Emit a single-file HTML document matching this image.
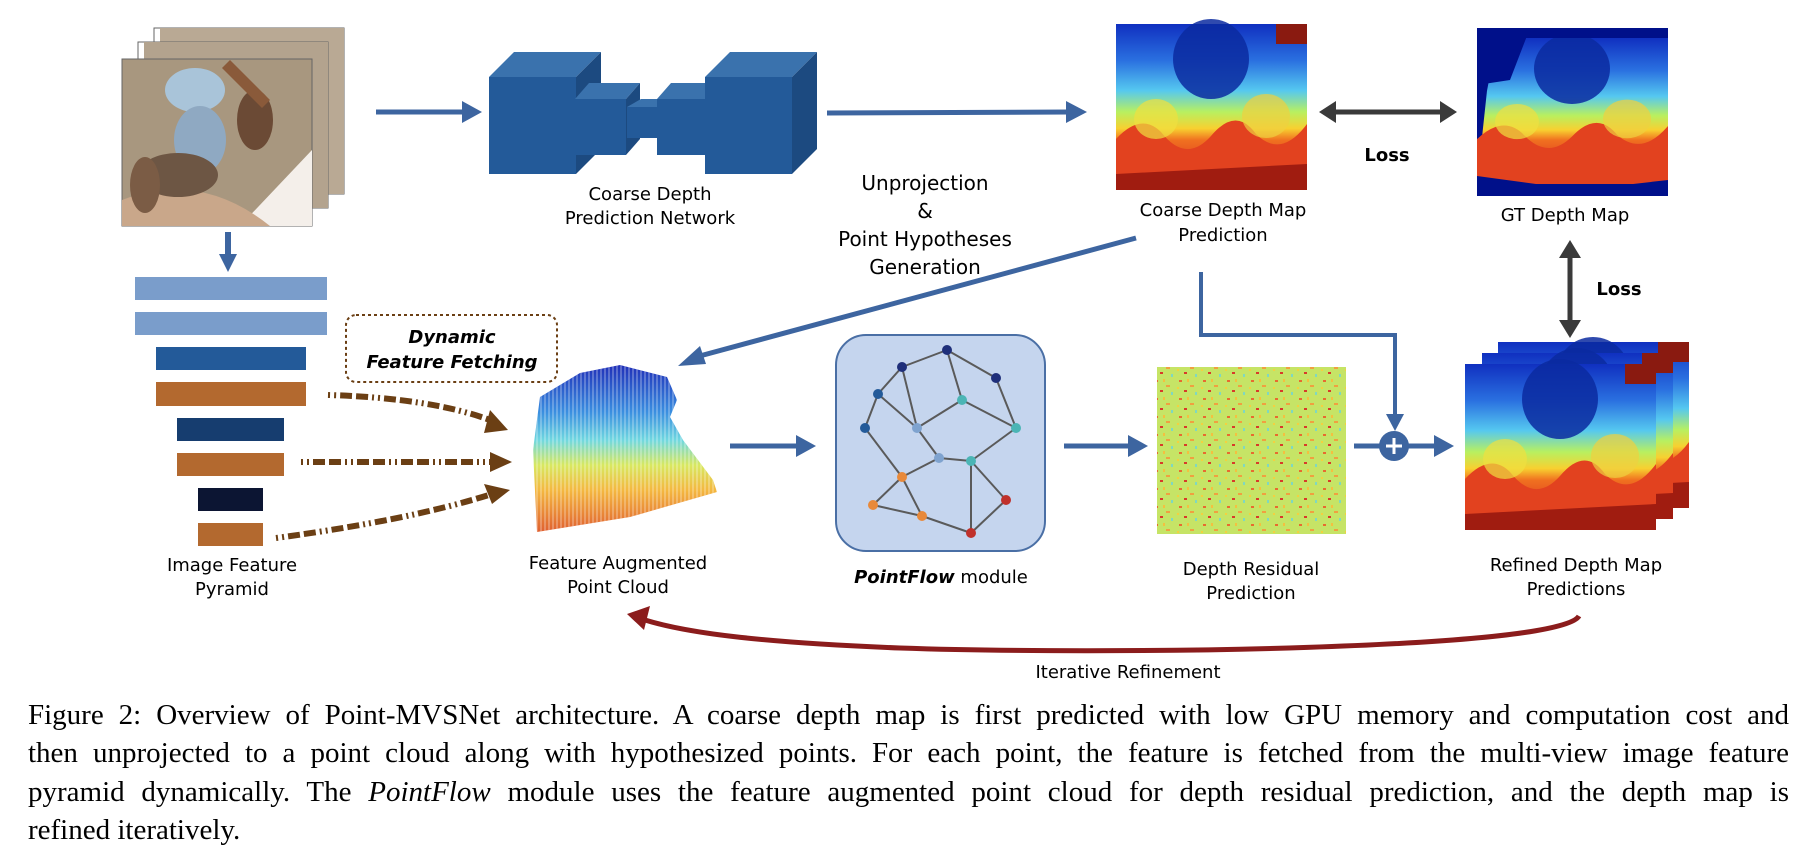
<!DOCTYPE html>
<html><head><meta charset="utf-8"><style>
html,body{margin:0;padding:0;background:#fff;}
body{width:1820px;height:862px;position:relative;overflow:hidden;font-family:"DejaVu Sans","Liberation Sans",sans-serif;}
.cap{position:absolute;left:28px;width:1761px;font-family:"Liberation Serif",serif;font-size:29px;line-height:38px;color:#000;text-align:justify;text-align-last:justify;white-space:nowrap;}
</style></head><body>
<svg width="1820" height="862" viewBox="0 0 1820 862" style="position:absolute;left:0;top:0" font-family="DejaVu Sans, Liberation Sans, sans-serif">
<defs>
<linearGradient id="dg" x1="0" y1="0" x2="0" y2="1">
<stop offset="0" stop-color="#1030c0"/><stop offset="0.22" stop-color="#2a70e0"/><stop offset="0.4" stop-color="#55c8f0"/><stop offset="0.53" stop-color="#b8f060"/><stop offset="0.63" stop-color="#f8d030"/><stop offset="0.7" stop-color="#f07020"/><stop offset="0.85" stop-color="#e04020"/><stop offset="1" stop-color="#8a1810"/>
</linearGradient>
<g id="dm">
<rect width="191" height="166" fill="url(#dg)"/>
<path d="M0,115 Q25,88 45,108 Q70,140 95,112 Q120,82 140,110 Q165,135 191,100 L191,166 L0,166Z" fill="#e2421f"/>
<path d="M0,150 L191,140 L191,166 L0,166Z" fill="#a01c10"/>
<ellipse cx="95" cy="35" rx="38" ry="40" fill="#0a2aa0" opacity="0.85"/>
<ellipse cx="40" cy="95" rx="22" ry="20" fill="#f0e040" opacity="0.7"/>
<ellipse cx="150" cy="92" rx="24" ry="22" fill="#f0d040" opacity="0.7"/>
<rect x="160" y="0" width="31" height="20" fill="#8a1a10"/>
</g>
<linearGradient id="pc" x1="0" y1="0" x2="0" y2="1">
<stop offset="0" stop-color="#2030b8"/><stop offset="0.28" stop-color="#3a8ee0"/><stop offset="0.45" stop-color="#70d8e0"/><stop offset="0.6" stop-color="#d8e860"/><stop offset="0.75" stop-color="#f4b840"/><stop offset="1" stop-color="#e06030"/>
</linearGradient>
<pattern id="stripes" width="4" height="4" patternUnits="userSpaceOnUse"><rect width="2" height="4" fill="#fff" opacity="0.25"/></pattern>
<pattern id="noise" width="24" height="18" patternUnits="userSpaceOnUse">
<rect width="24" height="18" fill="#c6e466"/>
<rect x="3" y="2" width="3" height="2" fill="#e86a30"/><rect x="14" y="7" width="4" height="2" fill="#f0a040"/><rect x="8" y="12" width="3" height="2" fill="#d83a2a"/><rect x="19" y="14" width="2" height="3" fill="#80d8c0"/><rect x="1" y="9" width="2" height="2" fill="#f4d040"/><rect x="11" y="1" width="2" height="3" fill="#f4c040"/>
</pattern>
</defs>

<g>
<rect x="154" y="28" width="190" height="166" fill="#fff" stroke="#666" stroke-width="1"/>
<rect x="160" y="28" width="184" height="166" fill="#b9a994"/>
<rect x="138" y="42" width="190" height="166" fill="#fff" stroke="#666" stroke-width="1"/>
<rect x="144" y="42" width="184" height="166" fill="#b3a38e"/>
<rect x="122" y="59" width="190" height="167" fill="#a8977f" stroke="#666" stroke-width="1"/>
<path d="M240,226 L312,150 L312,226Z" fill="#f4efea"/>
<path d="M122,200 Q200,170 270,226 L122,226Z" fill="#c9a78a"/>
<ellipse cx="195" cy="90" rx="30" ry="22" fill="#a9c4d9"/>
<ellipse cx="200" cy="140" rx="26" ry="34" fill="#8fa9c2"/>
<ellipse cx="178" cy="175" rx="40" ry="22" fill="#6d5644"/>
<ellipse cx="255" cy="120" rx="18" ry="30" fill="#6b4a35"/>
<ellipse cx="145" cy="185" rx="15" ry="28" fill="#7b5c45"/>
<path d="M230,60 L270,100 L262,108 L222,68Z" fill="#8a5a3a"/>
</g>
<line x1="228" y1="232" x2="228" y2="256" stroke="#3d65a0" stroke-width="6"/>
<polygon points="219,254 237,254 228,272" fill="#3d65a0"/>
<rect x="135" y="277" width="192" height="23" fill="#7a9dcb"/>
<rect x="135" y="312" width="192" height="23" fill="#7a9dcb"/>
<rect x="156" y="347" width="150" height="23" fill="#235a99"/>
<rect x="156" y="382" width="150" height="24" fill="#b3692f"/>
<rect x="177" y="418" width="107" height="23" fill="#163d6f"/>
<rect x="177" y="453" width="107" height="23" fill="#b3692f"/>
<rect x="198" y="488" width="65" height="23" fill="#0c1533"/>
<rect x="198" y="523" width="65" height="23" fill="#b3692f"/>
<text x="232" y="571" font-size="18" text-anchor="middle">Image Feature</text>
<text x="232" y="595" font-size="18" text-anchor="middle">Pyramid</text>

<rect x="346" y="315" width="211" height="67" rx="10" fill="none" stroke="#6b3f14" stroke-width="2" stroke-dasharray="3 3"/>
<text x="452" y="343" font-size="18" font-weight="bold" font-style="italic" text-anchor="middle">Dynamic</text>
<text x="452" y="368" font-size="18" font-weight="bold" font-style="italic" text-anchor="middle">Feature Fetching</text>
<g stroke="#6b3f14" stroke-width="6" fill="none" stroke-dasharray="2 4 2 4 12 4 12 4">
<path d="M328,395 Q430,398 490,420"/>
<path d="M301,462 L492,462"/>
<path d="M276,538 Q410,520 492,494"/>
</g>
<polygon points="490,410 508,430 484,433" fill="#6b3f14"/>
<polygon points="490,452 512,462 490,472" fill="#6b3f14"/>
<polygon points="484,484 510,490 492,504" fill="#6b3f14"/>

<line x1="376" y1="112" x2="466" y2="112" stroke="#3d65a0" stroke-width="5"/>
<polygon points="462,101 482,112 462,123" fill="#3d65a0"/>
<g>
<polygon points="489,77 514,52 601,52 576,77" fill="#3a72ad"/>
<polygon points="576,77 601,52 601,149 576,174" fill="#1c4a80"/>
<rect x="489" y="77" width="87" height="97" fill="#235a99"/>
<polygon points="575,99 589,83 640,83 626,99" fill="#3a72ad"/>
<polygon points="626,99 640,83 640,139 626,155" fill="#1c4a80"/>
<rect x="575" y="99" width="51" height="56" fill="#235a99"/>
<polygon points="627,107 641,99 671,99 657,107" fill="#3a72ad"/>
<rect x="627" y="107" width="30" height="31" fill="#235a99"/>
<polygon points="657,99 671,83 719,83 705,99" fill="#3a72ad"/>
<rect x="657" y="99" width="48" height="56" fill="#235a99"/>
<polygon points="705,77 730,52 817,52 792,77" fill="#3a72ad"/>
<polygon points="792,77 817,52 817,149 792,174" fill="#1c4a80"/>
<rect x="705" y="77" width="87" height="97" fill="#235a99"/>
</g>
<text x="650" y="200" font-size="18" text-anchor="middle">Coarse Depth</text>
<text x="650" y="224" font-size="18" text-anchor="middle">Prediction Network</text>
<line x1="827" y1="113" x2="1070" y2="112" stroke="#3d65a0" stroke-width="5"/>
<polygon points="1066,101 1087,112 1066,123" fill="#3d65a0"/>

<text x="925" y="190" font-size="20" text-anchor="middle">Unprojection</text>
<text x="925" y="218" font-size="20" text-anchor="middle">&amp;</text>
<text x="925" y="246" font-size="20" text-anchor="middle">Point Hypotheses</text>
<text x="925" y="274" font-size="20" text-anchor="middle">Generation</text>

<use href="#dm" x="1116" y="24"/>
<text x="1223" y="216" font-size="18" text-anchor="middle">Coarse Depth Map</text>
<text x="1223" y="241" font-size="18" text-anchor="middle">Prediction</text>
<line x1="1333" y1="112" x2="1443" y2="112" stroke="#3a3a3a" stroke-width="5"/>
<polygon points="1319,112 1336,101 1336,123" fill="#3a3a3a"/>
<polygon points="1457,112 1440,101 1440,123" fill="#3a3a3a"/>
<text x="1387" y="161" font-size="18" font-weight="bold" text-anchor="middle">Loss</text>

<rect x="1477" y="28" width="191" height="168" fill="#00108a"/>
<svg x="1477" y="38" width="191" height="146" viewBox="0 0 191 166" preserveAspectRatio="none">
<path d="M20,0 L191,0 L191,166 L0,166 L10,60Z" fill="url(#dg)"/>
<path d="M0,115 Q25,88 45,108 Q70,140 95,112 Q120,82 140,110 Q165,135 191,100 L191,166 L0,166Z" fill="#e2421f"/>
<ellipse cx="95" cy="35" rx="38" ry="40" fill="#0a2aa0" opacity="0.85"/>
<ellipse cx="40" cy="95" rx="22" ry="20" fill="#f0e040" opacity="0.7"/>
<ellipse cx="150" cy="92" rx="24" ry="22" fill="#f0d040" opacity="0.7"/>
</svg>
<path d="M1477,28 L1530,28 L1510,80 L1477,85Z" fill="#00108a"/>
<path d="M1477,176 L1580,190 L1668,180 L1668,196 L1477,196Z" fill="#00108a"/>
<text x="1565" y="221" font-size="18" text-anchor="middle">GT Depth Map</text>
<line x1="1570" y1="254" x2="1570" y2="324" stroke="#3a3a3a" stroke-width="5"/>
<polygon points="1570,240 1559,258 1581,258" fill="#3a3a3a"/>
<polygon points="1570,338 1559,320 1581,320" fill="#3a3a3a"/>
<text x="1619" y="295" font-size="18" font-weight="bold" text-anchor="middle">Loss</text>

<line x1="1136" y1="238" x2="696" y2="357" stroke="#3d65a0" stroke-width="5"/>
<polygon points="678,366 700,346 706,364" fill="#3d65a0"/>

<path d="M580,373 L620,365 L667,377 L677,400 L670,417 L683,440 L713,480 L717,492 L630,517 L537,532 L533,450 L540,397Z" fill="url(#pc)"/>
<path d="M580,373 L620,365 L667,377 L677,400 L670,417 L683,440 L713,480 L717,492 L630,517 L537,532 L533,450 L540,397Z" fill="url(#stripes)"/>
<text x="618" y="569" font-size="18" text-anchor="middle">Feature Augmented</text>
<text x="618" y="593" font-size="18" text-anchor="middle">Point Cloud</text>
<line x1="730" y1="446" x2="800" y2="446" stroke="#3d65a0" stroke-width="5"/>
<polygon points="796,435 816,446 796,457" fill="#3d65a0"/>

<rect x="836" y="335" width="209" height="216" rx="30" fill="#c5d5ee" stroke="#4a6fa5" stroke-width="2"/>
<g stroke="#5a5a5a" stroke-width="2">
<line x1="947" y1="350" x2="902" y2="367"/><line x1="947" y1="350" x2="996" y2="378"/><line x1="947" y1="350" x2="962" y2="400"/>
<line x1="902" y1="367" x2="878" y2="394"/><line x1="902" y1="367" x2="917" y2="428"/><line x1="878" y1="394" x2="865" y2="428"/>
<line x1="878" y1="394" x2="917" y2="428"/><line x1="962" y1="400" x2="917" y2="428"/><line x1="962" y1="400" x2="1016" y2="428"/>
<line x1="996" y1="378" x2="1016" y2="428"/><line x1="865" y1="428" x2="902" y2="477"/><line x1="917" y1="428" x2="939" y2="458"/>
<line x1="939" y1="458" x2="971" y2="461"/><line x1="939" y1="458" x2="902" y2="477"/><line x1="1016" y1="428" x2="971" y2="461"/>
<line x1="971" y1="461" x2="1006" y2="500"/><line x1="971" y1="461" x2="971" y2="533"/><line x1="902" y1="477" x2="873" y2="505"/>
<line x1="902" y1="477" x2="922" y2="516"/><line x1="873" y1="505" x2="922" y2="516"/><line x1="922" y1="516" x2="971" y2="533"/>
<line x1="1006" y1="500" x2="971" y2="533"/>
</g>
<g>
<circle cx="947" cy="350" r="5" fill="#1f2f7a"/><circle cx="902" cy="367" r="5" fill="#1f2f7a"/><circle cx="996" cy="378" r="5" fill="#1f2f7a"/>
<circle cx="878" cy="394" r="5" fill="#235a99"/><circle cx="962" cy="400" r="5" fill="#4bb5b5"/><circle cx="865" cy="428" r="5" fill="#235a99"/>
<circle cx="917" cy="428" r="5" fill="#7fa3cf"/><circle cx="1016" cy="428" r="5" fill="#4bb5b5"/><circle cx="939" cy="458" r="5" fill="#7fa3cf"/>
<circle cx="971" cy="461" r="5" fill="#4bb5b5"/><circle cx="902" cy="477" r="5" fill="#e8893a"/><circle cx="1006" cy="500" r="5" fill="#c0312b"/>
<circle cx="873" cy="505" r="5" fill="#e8893a"/><circle cx="922" cy="516" r="5" fill="#e8893a"/><circle cx="971" cy="533" r="5" fill="#c0312b"/>
</g>
<text x="941" y="583" font-size="18" text-anchor="middle"><tspan font-weight="bold" font-style="italic">PointFlow</tspan> module</text>
<line x1="1064" y1="446" x2="1132" y2="446" stroke="#3d65a0" stroke-width="5"/>
<polygon points="1128,435 1148,446 1128,457" fill="#3d65a0"/>

<rect x="1157" y="367" width="189" height="167" fill="url(#noise)"/>
<text x="1251" y="575" font-size="18" text-anchor="middle">Depth Residual</text>
<text x="1251" y="599" font-size="18" text-anchor="middle">Prediction</text>

<polyline points="1201,272 1201,335 1395,335 1395,418" fill="none" stroke="#3d65a0" stroke-width="4"/>
<polygon points="1386,414 1404,414 1395,431" fill="#3d65a0"/>
<line x1="1354" y1="446" x2="1380" y2="446" stroke="#3d65a0" stroke-width="5"/>
<circle cx="1394" cy="446" r="15" fill="#3d65a0"/>
<line x1="1386" y1="446" x2="1402" y2="446" stroke="#fff" stroke-width="3"/>
<line x1="1394" y1="438" x2="1394" y2="454" stroke="#fff" stroke-width="3"/>
<line x1="1408" y1="446" x2="1438" y2="446" stroke="#3d65a0" stroke-width="5"/>
<polygon points="1434,435 1454,446 1434,457" fill="#3d65a0"/>

<use href="#dm" x="1498" y="342"/>
<use href="#dm" x="1482" y="353"/>
<use href="#dm" x="1465" y="364"/>
<text x="1576" y="571" font-size="18" text-anchor="middle">Refined Depth Map</text>
<text x="1576" y="595" font-size="18" text-anchor="middle">Predictions</text>

<path d="M1579,616 C1560,650 1100,655 900,648 C770,643 690,634 645,620" fill="none" stroke="#8b1c1c" stroke-width="5"/>
<polygon points="627,614 650,606 644,630" fill="#8b1c1c"/>
<text x="1128" y="678" font-size="18" text-anchor="middle">Iterative Refinement</text>
</svg>

<div class="cap" style="top:696px">Figure 2: Overview of Point-MVSNet architecture. A coarse depth map is first predicted with low GPU memory and computation cost and</div>
<div class="cap" style="top:734px">then unprojected to a point cloud along with hypothesized points. For each point, the feature is fetched from the multi-view image feature</div>
<div class="cap" style="top:773px">pyramid dynamically. The <i>PointFlow</i> module uses the feature augmented point cloud for depth residual prediction, and the depth map is</div>
<div class="cap" style="top:811px;text-align-last:left">refined iteratively.</div>
</body></html>
